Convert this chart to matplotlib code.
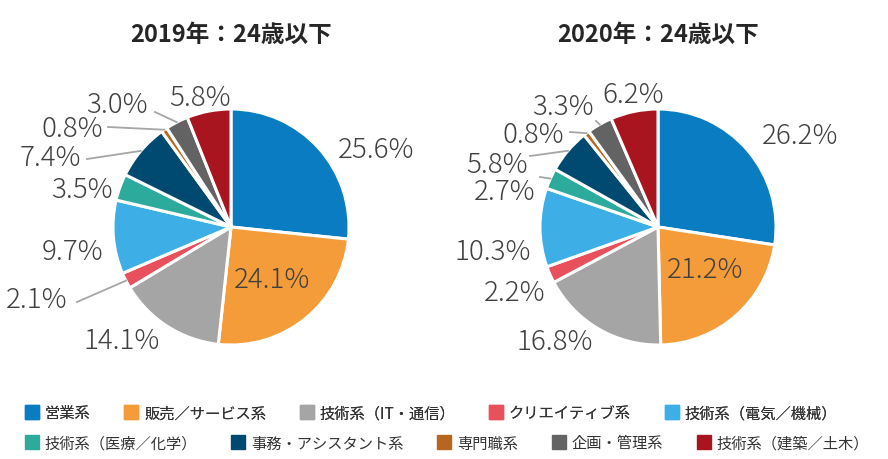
import numpy as np
import matplotlib
matplotlib.use("Agg")
import matplotlib.pyplot as plt
from matplotlib.lines import Line2D

plt.rcParams['font.family'] = ['Noto Sans CJK JP', 'DejaVu Sans']

# data
categories = ['営業系', '販売／サービス系', '技術系（IT・通信）', 'クリエイティブ系', '技術系（電気／機械）',
              '技術系（医療／化学）', '事務・アシスタント系', '専門職系', '企画・管理系', '技術系（建築／土木）']
colors = ['#0A7DC2', '#F49B3A', '#A5A5A5', '#E8505B', '#3DAFE6',
          '#2CAA9C', '#004A72', '#B6661E', '#636363', '#A8151F']
titles = ['2019年：24歳以下', '2020年：24歳以下']
values_2019 = [25.6, 24.1, 14.1, 2.1, 9.7, 3.5, 7.4, 0.8, 3.0, 5.8]
values_2020 = [26.2, 21.2, 16.8, 2.2, 10.3, 2.7, 5.8, 0.8, 3.3, 6.2]

# layout (pixel units, y up)
W, H = 888, 460
R = 118
centers = [(231, 232), (658, 232)]
# label offsets from pie centre
label_pos = [
    [(145, 78), (41, -52), (-109, -113), (-194, -72), (-158, -24),
     (-149, 38), (-181, 70), (-159, 99), (-114, 123), (-31, 130)],
    [(142, 92), (47, -42), (-103, -114), (-143, -65), (-165, -24),
     (-153, 36), (-161, 63), (-125, 93), (-95, 121), (-25, 133)],
]
# leader line start points (offset from centre)
leader_start = [
    {3: (-154, -75), 6: (-144, 68), 7: (-123, 100), 8: (-76, 115)},
    {5: (-118, 50), 6: (-128, 71), 7: (-88, 95), 8: (-62, 106)},
]

fig = plt.figure(figsize=(W / 100, H / 100), dpi=100)
ax = fig.add_axes([0, 0, 1, 1])

for k, vals in enumerate([values_2019, values_2020]):
    cx, cy = centers[k]
    wedges, _ = ax.pie(vals, colors=colors, startangle=90, counterclock=False,
                       center=(cx, cy), radius=R, explode=[0.012] * len(vals),
                       wedgeprops=dict(edgecolor='white', linewidth=2.2))
    for i, v in enumerate(vals):
        dx, dy = label_pos[k][i]
        ax.text(cx + dx, cy + dy, f'{v:.1f}%', ha='center', va='center',
                fontsize=20, color='#404040', fontweight='light')
        if i in leader_start[k]:
            w = wedges[i]
            ang = np.deg2rad((w.theta1 + w.theta2) / 2)
            ex, ey = cx + R * np.cos(ang), cy + R * np.sin(ang)
            sx, sy = leader_start[k][i]
            ax.plot([cx + sx, ex], [cy + sy, ey], color='#A6A6A6', lw=1.3)
    ax.text(cx, H - 35, titles[k], ha='center', va='center', fontsize=17,
            fontweight='bold', color='#262626')

ax.set_xlim(0, W)
ax.set_ylim(0, H)
ax.set_aspect('equal')
ax.axis('off')

handles = [Line2D([], [], ls='', marker='s', markersize=10, color=c) for c in colors]
leg_kw = dict(ncol=5, loc='center left', frameon=False, fontsize=11,
              handletextpad=0.35, columnspacing=2.2, handlelength=0.95,
              borderaxespad=0, borderpad=0, labelcolor='#333333')
leg1 = fig.legend(handles[:5], categories[:5], bbox_to_anchor=(25 / W, 1 - 414 / H), **leg_kw)
fig.legend(handles[5:], categories[5:], bbox_to_anchor=(25 / W, 1 - 444 / H), **leg_kw)
fig.add_artist(leg1)

fig.savefig('out.png', dpi=100)
